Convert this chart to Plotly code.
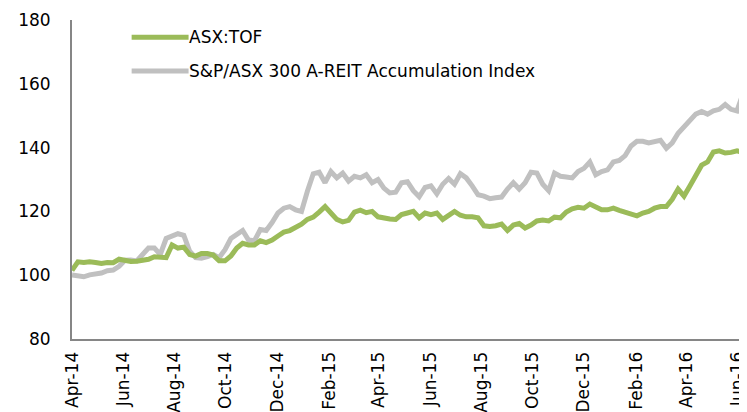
import pandas as pd
import plotly.graph_objects as go

# Weekly readings from 1 Apr 2014, plus the final observation
first_date = "2014-04-01"
last_date = "2016-06-06"

tof = [101.5, 104.2, 104.0, 104.2, 104.0, 103.7, 104.0, 103.9, 105.0, 104.5,
       104.3, 104.4, 104.8, 105.0, 105.8, 105.8, 105.5, 109.5, 108.5, 108.8,
       106.5, 106.0, 106.8, 106.8, 106.3, 104.5, 104.5, 106.0, 108.5, 110.0,
       109.5, 109.5, 110.8, 110.2, 111.0, 112.3, 113.5, 114.0, 115.0, 116.0,
       117.5, 118.2, 119.8, 121.5, 119.5, 117.5, 116.7, 117.2, 119.8, 120.4,
       119.6, 120.0, 118.3, 117.8, 117.6, 117.5, 119.0, 119.5, 120.0, 118.0,
       119.5, 119.0, 119.5, 117.5, 118.8, 120.0, 118.8, 118.3, 118.3, 118.0,
       115.5, 115.3, 115.5, 116.0, 114.0, 115.7, 116.2, 114.8, 115.7, 117.0,
       117.3, 117.0, 118.2, 118.0, 119.8, 120.8, 121.3, 121.0, 122.3, 121.5,
       120.5, 120.5, 121.0, 120.3, 119.8, 119.5, 118.6, 119.5, 120.0, 121.0,
       121.5, 121.5, 123.8, 127.0, 124.8, 128.0, 131.0, 134.5, 135.5, 138.6,
       139.0, 138.3, 138.5, 139.0, 138.5]

areit = [100.1, 99.7, 99.5, 100.1, 100.4, 100.7, 101.4, 101.6, 102.8, 104.7,
         104.8, 104.5, 106.5, 108.5, 108.5, 106.5, 111.5, 112.3, 113.0, 112.5,
         107.5, 105.5, 105.3, 105.8, 106.5, 105.5, 108.0, 111.5, 113.0, 114.0,
         111.0, 110.8, 114.3, 114.0, 116.5, 119.5, 121.0, 121.5, 120.5, 120.0,
         126.3, 131.8, 132.3, 129.0, 132.5, 130.5, 132.0, 129.5, 131.0, 130.5,
         131.5, 129.0, 130.0, 127.3, 125.8, 126.0, 129.0, 129.3, 126.5, 124.6,
         127.5, 128.0, 125.5, 128.5, 130.3, 128.5, 131.8, 130.5, 128.0, 125.2,
         124.8, 124.0, 124.3, 124.5, 127.0, 129.0, 127.0, 129.0, 132.3, 132.0,
         128.5, 126.5, 132.0, 131.0, 130.8, 130.5, 132.5, 133.5, 135.5, 131.5,
         132.5, 133.0, 135.5, 136.0, 137.5, 140.5, 142.0, 142.0, 141.5, 141.8,
         142.3, 139.8, 141.5, 144.5, 146.6, 148.6, 150.5, 151.3, 150.5, 151.5,
         152.0, 153.5, 152.0, 151.5, 156.0]

series_names = ["ASX:TOF", "S&P/ASX 300 A-REIT Accumulation Index"]
series_colors = ["#9BBB59", "#C0C0C0"]

dates = list(pd.date_range(first_date, periods=len(tof) - 1, freq="7D")) + [pd.Timestamp(last_date)]

FONT = "DejaVu Sans"
fig = go.Figure()
# grey drawn first so green sits on top
fig.add_trace(go.Scatter(x=dates, y=areit, mode="lines", name=series_names[1],
                         line=dict(color=series_colors[1], width=5), showlegend=False))
fig.add_trace(go.Scatter(x=dates, y=tof, mode="lines", name=series_names[0],
                         line=dict(color=series_colors[0], width=5), showlegend=False))

# manual legend
leg_y = [0.9458, 0.8401]
for i in range(2):
    fig.add_shape(type="line", xref="paper", yref="paper", x0=0.089, x1=0.174,
                  y0=leg_y[i], y1=leg_y[i], line=dict(color=series_colors[i], width=5))
    fig.add_annotation(xref="paper", yref="paper", x=0.172, y=leg_y[i], text=series_names[i],
                       showarrow=False, xanchor="left", yanchor="middle",
                       font=dict(family=FONT, size=17, color="#000000"))

# the page body adds an 8px offset, so the figure is 8px smaller and margins shifted
fig.update_layout(
    width=739, height=404,
    margin=dict(l=64, r=5, t=12, b=73),
    paper_bgcolor="white", plot_bgcolor="white",
    font=dict(family=FONT, size=17, color="#000000"),
    xaxis=dict(type="date", range=[first_date, last_date], dtick="M2", tick0=first_date,
               tickformat="%b-%y", tickangle=-90, showgrid=False, zeroline=False,
               showline=True, linecolor="#868686", linewidth=2, ticks="",
               ticklabelstandoff=4, automargin=False, ticklabeloverflow="allow"),
    yaxis=dict(range=[80, 180], dtick=20, showgrid=False, zeroline=False,
               showline=True, linecolor="#868686", linewidth=2, ticks="",
               ticklabelstandoff=16, automargin=False),
)

fig.write_html("out.html")
